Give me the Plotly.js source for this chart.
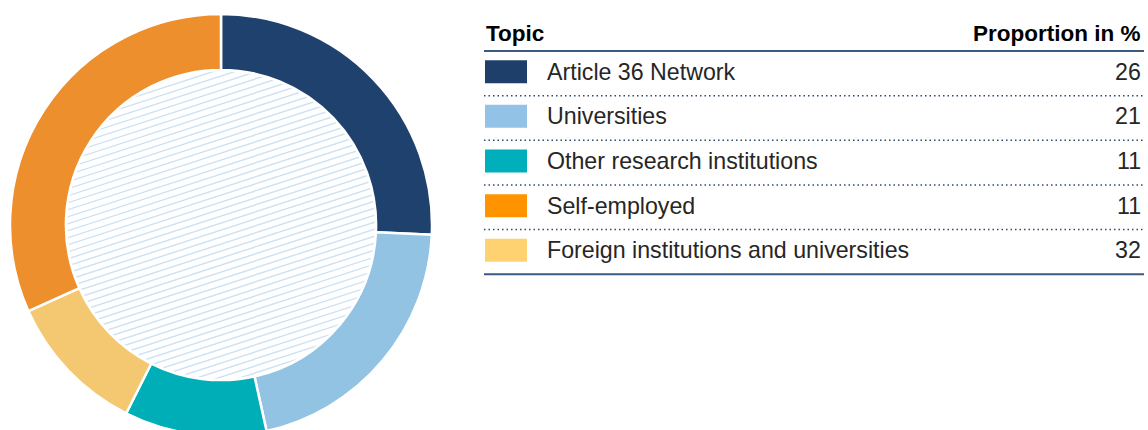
<!DOCTYPE html>
<html>
<head>
<meta charset="utf-8">
<script src="https://cdn.plot.ly/plotly-3.0.1.min.js"></script>
<style>
  html, body { margin: 0; padding: 0; overflow: hidden; background: #fff; }
  #chart { width: 1148px; height: 450px; }
</style>
</head>
<body>
<div id="chart"></div>
<script>
// ---- data ----
const topics = ["Article 36 Network", "Universities", "Other research institutions", "Self-employed", "Foreign institutions and universities"];
const proportions = [26, 21, 11, 11, 32];
const legendColors = ["#1F3F6B", "#92C3E7", "#00AEBC", "#FF9300", "#FFD271"];
const donutColors = ["#1F416D", "#92C3E3", "#00AEB8", "#F4C870", "#EE8F2E"];
const headerTopic = "Topic";
const headerValue = "Proportion in %";

// ---- layout geometry ----
const W = 1148, H = 450;
const cx = 221, cy = 225, rOut = 211, hole = 0.735;
const rIn = rOut * hole;

// hatch pattern for the donut centre (decoration)
function hatchSvg(r) {
  const d = 2 * r;
  let lines = "";
  const rise = (d + 40) * Math.tan(18 * Math.PI / 180);
  for (let y0 = 0; y0 <= d + rise + 10; y0 += 7) {
    lines += `<line x1='-20' y1='${y0.toFixed(2)}' x2='${d + 20}' y2='${(y0 - rise).toFixed(2)}'/>`;
  }
  const svg = `<svg xmlns='http://www.w3.org/2000/svg' width='${d}' height='${d}' viewBox='0 0 ${d} ${d}'>` +
    `<defs><clipPath id='c'><circle cx='${r}' cy='${r}' r='${r - 1}'/></clipPath></defs>` +
    `<g clip-path='url(#c)' stroke='#CCE1F4' stroke-width='1.4'>${lines}</g></svg>`;
  return "data:image/svg+xml;charset=utf-8," + encodeURIComponent(svg);
}

const pie = {
  type: "pie",
  values: proportions,
  labels: topics,
  sort: false,
  direction: "clockwise",
  rotation: 0,
  hole: hole,
  textinfo: "none",
  hoverinfo: "label+value",
  marker: { colors: donutColors, line: { color: "#FFFFFF", width: 2.5 } },
  domain: {
    x: [(cx - rOut) / W, (cx + rOut) / W],
    y: [1 - (cy + rOut) / H, 1 - (cy - rOut) / H]
  },
  showlegend: false
};

// ---- table built from data ----
const tableLeft = 484, tableRight = 1144;
const headerLineY = 51, rowH = 44.65;
const swatchX0 = 485, swatchX1 = 527, swatchH = 23;
const textX = 545, valueX = 1143;
const fontFam = "Liberation Sans, Arial, Helvetica, sans-serif";

const shapes = [];
const annotations = [];

shapes.push({ type: "line", xref: "x", yref: "y", x0: tableLeft, x1: tableRight, y0: headerLineY, y1: headerLineY,
  line: { color: "#3B5A82", width: 2 } });
annotations.push({ xref: "x", yref: "y", x: 484, y: 33, xanchor: "left", yanchor: "middle", showarrow: false,
  text: "<b>" + headerTopic + "</b>", font: { family: fontFam, size: 22.5, color: "#000" } });
annotations.push({ xref: "x", yref: "y", x: valueX, y: 33, xanchor: "right", yanchor: "middle", showarrow: false,
  text: "<b>" + headerValue + "</b>", font: { family: fontFam, size: 22.5, color: "#000" } });

topics.forEach((t, i) => {
  const top = headerLineY + rowH * i;
  const mid = top + 20.7;
  shapes.push({ type: "rect", xref: "x", yref: "y", x0: swatchX0, x1: swatchX1, y0: mid - swatchH / 2, y1: mid + swatchH / 2,
    fillcolor: legendColors[i], line: { width: 0 } });
  annotations.push({ xref: "x", yref: "y", x: textX, y: mid, xanchor: "left", yanchor: "middle", showarrow: false,
    text: t, font: { family: fontFam, size: 23.2, color: "#262626" } });
  annotations.push({ xref: "x", yref: "y", x: valueX, y: mid, xanchor: "right", yanchor: "middle", showarrow: false,
    text: String(proportions[i]), font: { family: fontFam, size: 23.2, color: "#262626" } });
  const yb = top + rowH;
  if (i < topics.length - 1) {
    shapes.push({ type: "line", xref: "x", yref: "y", x0: tableLeft, x1: tableRight, y0: yb, y1: yb,
      line: { color: "#2C4A72", width: 1.5, dash: "1.5px,3px" } });
  } else {
    shapes.push({ type: "line", xref: "x", yref: "y", x0: tableLeft, x1: tableRight, y0: yb, y1: yb,
      line: { color: "#3B5A82", width: 2 } });
  }
});

const layout = {
  width: W, height: H,
  margin: { l: 0, r: 0, t: 0, b: 0 },
  paper_bgcolor: "#FFFFFF",
  plot_bgcolor: "rgba(0,0,0,0)",
  xaxis: { range: [0, W], visible: false, fixedrange: true },
  yaxis: { range: [H, 0], visible: false, fixedrange: true },
  shapes: shapes,
  annotations: annotations,
  images: [{
    source: hatchSvg(rIn),
    xref: "paper", yref: "paper",
    x: (cx - rIn) / W, y: 1 - (cy - rIn) / H,
    sizex: 2 * rIn / W, sizey: 2 * rIn / H,
    xanchor: "left", yanchor: "top",
    sizing: "stretch", layer: "below"
  }],
  showlegend: false
};

Plotly.newPlot("chart", [pie], layout, { displayModeBar: false, staticPlot: true });
</script>
</body>
</html>
